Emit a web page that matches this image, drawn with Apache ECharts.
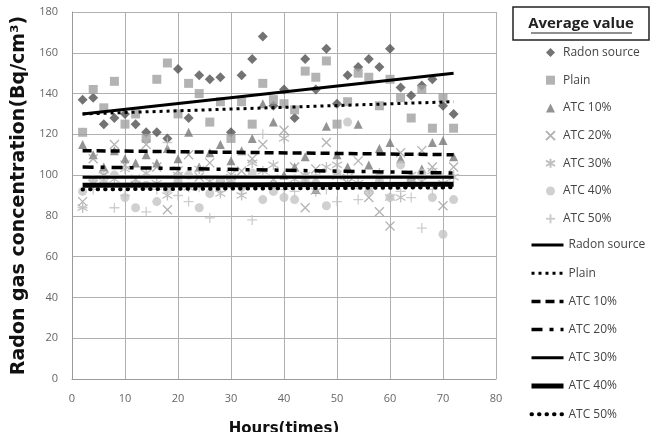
<!DOCTYPE html>
<html lang="en">
  <head>
    <meta charset="UTF-8" />
    <title>Radon gas concentration</title>
    <script src="https://cdn.jsdelivr.net/npm/echarts/dist/echarts.min.js"></script>
    <style>
      html, body { margin: 0; padding: 0; background: #fff; }
      #main { width: 658px; height: 432px; }
    </style>
  </head>
  <body>
    <div id="main"></div>
    <script>
      // measurement times (hours)
      var hours = [2, 4, 6, 8, 10, 12, 14, 16, 18, 20, 22, 24, 26, 28, 30, 32, 34, 36,
                   38, 40, 42, 44, 46, 48, 50, 52, 54, 56, 58, 60, 62, 64, 66, 68, 70, 72];

      var radonSource = [137, 138, 125, 128, 130, 125, 121, 121, 118, 152, 128, 149, 147, 148, 121, 149, 157, 168,
                         134, 142, 128, 157, 142, 162, 135, 149, 153, 157, 153, 162, 143, 139, 144, 147, 134, 130];
      var plain = [121, 142, 133, 146, 125, 130, 118, 147, 155, 130, 145, 140, 126, 136, 118, 136, 125, 145,
                   137, 135, 132, 151, 148, 156, 125, 136, 150, 148, 134, 147, 138, 128, 142, 123, 138, 123];
      var atc10 = [115, 110, 104, 112, 108, 106, 110, 106, 113, 108, 121, 104, 111, 115, 107, 112, 118, 135,
                   126, 100, 104, 109, 93, 124, 110, 104, 125, 105, 113, 116, 108, 99, 103, 116, 117, 109];
      var atc20 = [87, 108, 100, 115, 105, 98, 115, 104, 83, 102, 110, 99, 106, 95, 100, 102, 108, 115,
                   98, 122, 104, 84, 103, 116, 100, 96, 107, 89, 82, 75, 111, 96, 112, 104, 85, 104];
      var atc30 = [84, 96, 100, 98, 103, 95, 101, 96, 90, 100, 94, 103, 97, 91, 99, 90, 106, 102,
                   105, 118, 98, 100, 92, 104, 105, 99, 96, 93, 101, 89, 89, 100, 97, 102, 96, 99];
      var atc40 = [92, 98, 96, 100, 89, 84, 95, 87, 93, 97, 100, 84, 91, 98, 96, 94, 101, 88,
                   92, 89, 88, 99, 96, 85, 101, 126, 95, 92, 97, 89, 105, 96, 101, 89, 71, 88];
      var atc50 = [84, 93, 96, 84, 90, 97, 82, 93, 116, 90, 87, 94, 79, 92, 96, 91, 78, 120,
                   96, 93, 92, 97, 100, 93, 87, 95, 88, 94, 99, 96, 92, 89, 74, 93, 99, 100];

      var seriesNames = ["Radon source", "Plain", "ATC 10%", "ATC 20%", "ATC 30%", "ATC 40%", "ATC 50%"];
      // average (trend) lines: value at first and last hour
      var trendStart = [130, 130, 112, 104, 99, 95, 93];
      var trendEnd = [150, 136, 110, 101, 99, 95.5, 94];

      var xTicks = [0, 10, 20, 30, 40, 50, 60, 70, 80];
      var yTicks = [0, 20, 40, 60, 80, 100, 120, 140, 160, 180];

      var pointSets = [radonSource, plain, atc10, atc20, atc30, atc40, atc50];
      var crossPath = "path://M0,0L10,10M10,0L0,10";
      var starPath = "path://M5,0L5,10M0,2L10,8M10,2L0,8";
      var plusPath = "path://M5,0L5,10M0,5L10,5";
      var markers = [
        { symbol: "diamond", size: 10, style: { color: "#505050" } },
        { symbol: "rect", size: 9, style: { color: "#a0a0a0" } },
        { symbol: "triangle", size: 9, style: { color: "#787878" } },
        { symbol: crossPath, size: 9, style: { color: "rgba(0,0,0,0)", borderColor: "#a0a0a0", borderWidth: 1.3 } },
        { symbol: starPath, size: 10, style: { color: "rgba(0,0,0,0)", borderColor: "#b0b0b0", borderWidth: 1.3 } },
        { symbol: "circle", size: 9, style: { color: "#c4c4c4" } },
        { symbol: plusPath, size: 10, style: { color: "rgba(0,0,0,0)", borderColor: "#c0c0c0", borderWidth: 1.3 } }
      ];
      var lineLooks = [
        { width: 3, type: "solid", cap: "butt" },
        { width: 3, type: [3, 4], cap: "butt" },
        { width: 3.5, type: [9, 5], cap: "butt" },
        { width: 3.5, type: [11, 7, 4, 7], cap: "butt" },
        { width: 3, type: "solid", cap: "butt" },
        { width: 5, type: "solid", cap: "butt" },
        { width: 4, type: [0.5, 7], cap: "round" }
      ];

      var series = [];
      seriesNames.forEach(function (name, i) {
        series.push({
          name: name,
          type: "scatter",
          symbol: markers[i].symbol,
          symbolSize: markers[i].size,
          itemStyle: markers[i].style,
          data: hours.map(function (h, k) { return [h, pointSets[i][k]]; }),
          z: 2
        });
      });
      seriesNames.forEach(function (name, i) {
        series.push({
          name: name + " ",
          type: "line",
          symbol: "none",
          silent: true,
          lineStyle: { color: "#000", width: lineLooks[i].width, type: lineLooks[i].type, cap: lineLooks[i].cap },
          itemStyle: { color: "#000" },
          data: [[hours[0], trendStart[i]], [hours[hours.length - 1], trendEnd[i]]],
          z: 3
        });
      });

      var chart = echarts.init(document.getElementById("main"));
      chart.setOption({
        animation: false,
        textStyle: { fontFamily: "Open Sans" },
        grid: { left: 72, right: 162, top: 12, bottom: 53, outerBoundsMode: "none", containLabel: false },
        xAxis: {
          type: "value",
          min: xTicks[0],
          max: xTicks[xTicks.length - 1],
          interval: 10,
          name: "Hours(times)",
          nameLocation: "middle",
          nameGap: 43,
          nameTextStyle: { color: "#111", fontSize: 15, fontWeight: "bold", fontFamily: "DejaVu Sans" },
          axisLine: { lineStyle: { color: "#9a9a9a" } },
          axisTick: { show: false },
          axisLabel: { color: "#666", fontSize: 11, margin: 14 },
          splitLine: { show: true, lineStyle: { color: "#b0b0b0" } }
        },
        yAxis: {
          type: "value",
          min: yTicks[0],
          max: yTicks[yTicks.length - 1],
          interval: 20,
          name: "Radon gas concentration(Bq/cm³)",
          nameLocation: "middle",
          nameGap: 43,
          nameTextStyle: { color: "#111", fontSize: 19, fontWeight: "bold", fontFamily: "DejaVu Sans" },
          axisLine: { show: true, lineStyle: { color: "#9a9a9a" } },
          axisTick: { show: false },
          axisLabel: { color: "#666", fontSize: 11, margin: 14 },
          splitLine: { show: true, lineStyle: { color: "#b0b0b0" } }
        },
        legend: [
          {
            orient: "vertical",
            left: 540,
            top: 41,
            itemWidth: 9,
            itemHeight: 9,
            itemGap: 14.7,
            textStyle: { color: "#444", fontSize: 12, height: 13, lineHeight: 13, padding: [0, 0, 0, 3] },
            data: seriesNames
          },
          {
            orient: "vertical",
            left: 524,
            top: 234,
            itemWidth: 32,
            itemHeight: 14,
            itemGap: 16.2,
            itemStyle: { opacity: 0 },
            textStyle: { color: "#444", fontSize: 12 },
            data: seriesNames.map(function (n, i) {
              return { name: n + " ", lineStyle: { width: lineLooks[i].width } };
            })
          }
        ],
        graphic: [
          {
            type: "rect",
            shape: { x: 513, y: 7, width: 136, height: 33 },
            style: { fill: "#fff", stroke: "#222", lineWidth: 1.5 }
          },
          {
            type: "text",
            x: 581,
            y: 24,
            style: {
              text: "Average value",
              font: "bold 15px 'Open Sans'",
              fill: "#222",
              align: "center",
              verticalAlign: "middle"
            }
          },
          {
            type: "line",
            shape: { x1: 531, y1: 33, x2: 632, y2: 33 },
            style: { stroke: "#222", lineWidth: 1.2 }
          }
        ],
        series: series
      });
    </script>
  </body>
</html>
